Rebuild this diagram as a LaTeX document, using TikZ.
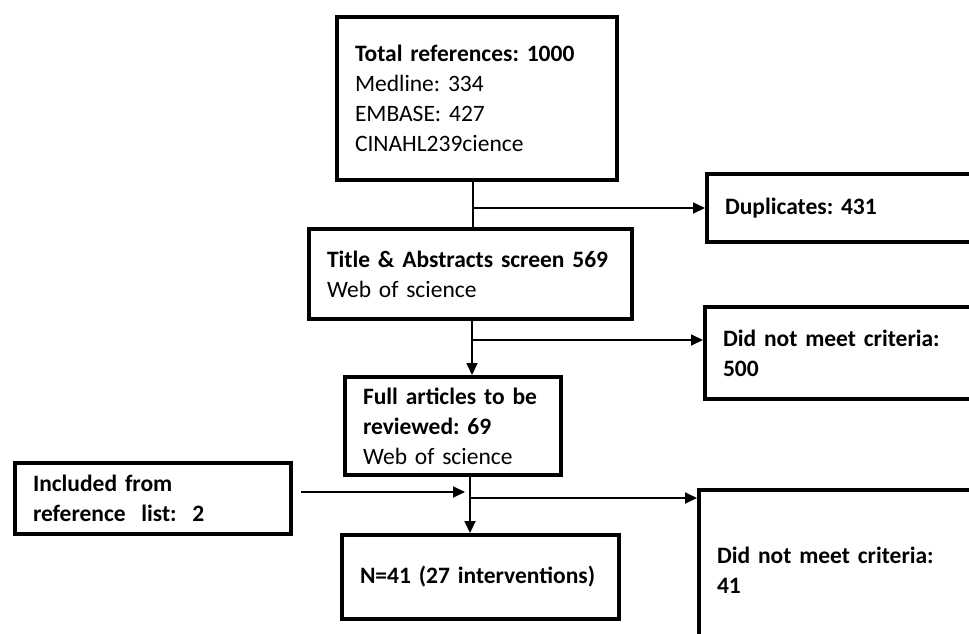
\documentclass[tikz,border=0pt]{standalone}
\usepackage{fontspec}
\setmainfont{Carlito}
\usepackage{tikz}
\usepackage{xcolor}
\usetikzlibrary{arrows.meta, positioning}

\tikzset{
  flowbox/.style={draw, line width=4pt, anchor=north west, align=left,
    inner xsep=18pt, inner ysep=0pt, font=\fontsize{23.5}{30}\selectfont\frenchspacing},
  link/.style={line width=1.8pt},
  arr/.style={link, -{Triangle[length=12pt,width=11pt]}}
}

\begin{document}
\begin{tikzpicture}[x=1pt, y=-1pt]
  \clip (0,0) rectangle (969,633);
  % boxes
  \node[flowbox, minimum width=280pt, minimum height=163pt, text width=244pt] (total) at (335,15)
    {\textbf{Total references: 1000}\\Medline: 334\\EMBASE: 427\\CINAHL239cience};
  \node[flowbox, minimum width=300pt, minimum height=68pt, text width=264pt] (dup) at (705,172)
    {\textbf{Duplicates: 431}};
  \node[flowbox, minimum width=323pt, minimum height=90pt, text width=287pt] (title) at (307,227)
    {\textbf{Title \& Abstracts screen 569}\\Web of science};
  \node[flowbox, minimum width=300pt, minimum height=92pt, text width=264pt] (crit1) at (703,305)
    {\textbf{Did not meet criteria:}\\\textbf{500}};
  \node[flowbox, minimum width=216pt, minimum height=98pt, text width=180pt] (full) at (343,375)
    {\textbf{Full articles to be}\\\textbf{reviewed: 69}\\Web of science};
  \node[flowbox, minimum width=276pt, minimum height=71pt, text width=240pt] (incl) at (13,461)
    {\textbf{Included from}\\\textbf{reference\ \ list:\ \ 2}};
  \node[flowbox, minimum width=277pt, minimum height=84pt, text width=241pt] (final) at (340,533)
    {\textbf{N=41 (27 interventions)}};
  \node[flowbox, minimum width=300pt, minimum height=160pt, text width=264pt] (crit2) at (697,488)
    {\textbf{Did not meet criteria:}\\\textbf{41}};
  % junction points on the main line
  \coordinate (j1) at (473,208);
  \coordinate (j2) at (472,340);
  \coordinate (j3) at (470,498);
  \coordinate (m) at (465,492);
  % main flow
  \draw[link] (total.south -| j1) -- (title.north -| j1);
  \draw[arr] (title.south -| j2) -- (full.north -| j2);
  \draw[arr] (full.south -| j3) -- (final.north -| j3);
  % exclusions
  \draw[arr] (j1) -- (j1 -| dup.west);
  \draw[arr] (j2) -- (j2 -| crit1.west);
  \draw[arr] (j3) -- (j3 -| crit2.west);
  % extra references
  \draw[arr, shorten <=8pt] (incl.east |- m) -- (m);
\end{tikzpicture}
\end{document}
